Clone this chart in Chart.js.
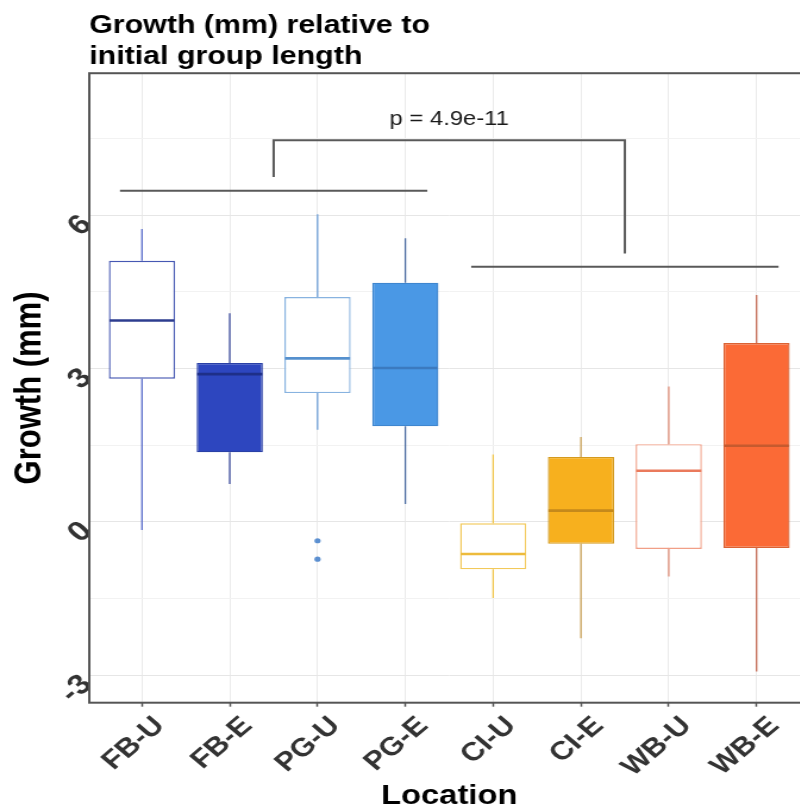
<!DOCTYPE html>
<html><head><meta charset="utf-8">
<script src="https://cdn.jsdelivr.net/npm/chart.js@4"></script>
<style>
html,body{margin:0;padding:0;background:#fff;overflow:hidden;}
#wrap{width:800px;height:810px;overflow:hidden;position:relative;background:#fff;}
#c{display:block;}
</style></head><body>
<div id="wrap"><canvas id="c" width="684" height="810" style="width:814px;height:810px"></canvas></div>
<script>
// ---- data ----
const categories  = ['FB-U','FB-E','PG-U','PG-E','CI-U','CI-E','WB-U','WB-E'];
const whiskerLow  = [-0.16, 0.74, 1.80, 0.35, -1.49, -2.28, -1.07, -2.93];
const q1          = [ 2.80, 1.36, 2.52, 1.87, -0.93, -0.43, -0.53, -0.51];
const median      = [ 3.94, 2.89, 3.20, 3.01, -0.63,  0.22,  1.00,  1.49];
const q3          = [ 5.11, 3.11, 4.40, 4.68, -0.03,  1.27,  1.52,  3.50];
const whiskerHigh = [ 5.73, 4.08, 6.02, 5.55,  1.32,  1.66,  2.65,  4.44];
const outlierCategory = ['PG-U','PG-U'];
const outlierValues   = [-0.37, -0.73];
const yTickValues = [-3, -1.5, 0, 1.5, 3, 4.5, 6, 7.5];
const yTickLabels = ['-3', '', '0', '', '3', '', '6', ''];
const groupA = ['FB-U','FB-E','PG-U','PG-E'];
const groupB = ['CI-U','CI-E','WB-U','WB-E'];
const groupALineY = 6.48;
const groupBLineY = 4.99;
const bracketTopY = 7.47;
const pLabel = 'p = 4.9e-11';
const pLabelY = 7.77;

// ---- styles ----
const fills   = ['#FFFFFF','#2D46BF','#FFFFFF','#4A98E5','#FFFFFF','#F7B01E','#FFFFFF','#FB6A36'];
const strokes = ['#4658B3','#2A40A6','#88B3E0','#3E86CF','#F2C95A','#D49A1E','#F19F87','#DB6233'];
const medianColors  = ['#2D3D8F','#1E2F88','#5590CE','#3B7ABF','#EDBB3C','#C4891B','#EA7A5C','#C65A2E'];
const whiskerColors = ['#5C6ECB','#3A4A9C','#6F9FD6','#4E6EA2','#F0C64F','#C9A155','#DF8E78','#C46C55'];
const FONT = '"Liberation Sans", Arial, Helvetica, sans-serif';

const X = c => categories.indexOf(c) + 1;
const boxData = categories.map((c, i) => ({x: i + 1, y: [q1[i], q3[i]]}));
const outlierData = outlierValues.map((v, i) => ({x: X(outlierCategory[i]), y: v}));
const aMid = (X(groupA[0]) + X(groupA[groupA.length - 1])) / 2;
const bMid = (X(groupB[0]) + X(groupB[groupB.length - 1])) / 2;
const lineA = [{x: X(groupA[0]) - 0.25, y: groupALineY}, {x: X(groupA[groupA.length - 1]) + 0.25, y: groupALineY}];
const lineB = [{x: X(groupB[0]) - 0.25, y: groupBLineY}, {x: X(groupB[groupB.length - 1]) + 0.25, y: groupBLineY}];
const bracket = [{x: aMid, y: groupALineY + 0.27}, {x: aMid, y: bracketTopY}, {x: bMid, y: bracketTopY}, {x: bMid, y: groupBLineY + 0.26}];

const lineDs = pts => ({type: 'line', data: pts, borderColor: '#595959', borderWidth: 2,
  pointRadius: 0, fill: false, tension: 0, borderCapStyle: 'butt'});

const boxParts = {
  id: 'boxParts',
  beforeDatasetsDraw(chart) {
    const {ctx, scales: {x, y}} = chart;
    ctx.save();
    ctx.lineWidth = 1.3;
    categories.forEach((c, i) => {
      const px = x.getPixelForValue(i + 1);
      ctx.strokeStyle = whiskerColors[i];
      ctx.beginPath();
      ctx.moveTo(px, y.getPixelForValue(q3[i]));
      ctx.lineTo(px, y.getPixelForValue(whiskerHigh[i]));
      ctx.moveTo(px, y.getPixelForValue(q1[i]));
      ctx.lineTo(px, y.getPixelForValue(whiskerLow[i]));
      ctx.stroke();
    });
    ctx.restore();
  },
  afterDatasetsDraw(chart) {
    const {ctx, chartArea: a, scales: {x, y}} = chart;
    const meta = chart.getDatasetMeta(0);
    ctx.save();
    ctx.lineWidth = 2.6;
    categories.forEach((c, i) => {
      const bar = meta.data[i];
      const hw = bar.width / 2 - 0.5;
      const py = y.getPixelForValue(median[i]);
      ctx.strokeStyle = medianColors[i];
      ctx.beginPath();
      ctx.moveTo(bar.x - hw, py);
      ctx.lineTo(bar.x + hw, py);
      ctx.stroke();
    });
    // p-value label
    ctx.fillStyle = '#1a1a1a';
    ctx.font = '20px ' + FONT;
    ctx.textAlign = 'center';
    ctx.textBaseline = 'alphabetic';
    ctx.fillText(pLabel, x.getPixelForValue((aMid + bMid) / 2), y.getPixelForValue(pLabelY));
    // panel border
    ctx.strokeStyle = '#555555';
    ctx.lineWidth = 2;
    ctx.strokeRect(a.left, a.top, a.right - a.left, a.bottom - a.top);
    ctx.restore();
  }
};

new Chart(document.getElementById('c'), {
  type: 'bar',
  data: {
    datasets: [
      {type: 'bar', data: boxData, backgroundColor: fills, borderColor: strokes, borderWidth: 1.4,
       borderSkipped: false, barPercentage: 0.754, categoryPercentage: 1.0, order: 2},
      {type: 'scatter', data: outlierData, backgroundColor: '#5B8FD0', borderColor: '#5B8FD0',
       pointRadius: 2.6, borderWidth: 0, order: 1},
      lineDs(lineA), lineDs(lineB), lineDs(bracket)
    ]
  },
  options: {
    responsive: false, animation: false, devicePixelRatio: 1,
    layout: {padding: 0},
    plugins: {
      legend: {display: false}, tooltip: {enabled: false},
      title: {display: true, text: ['Growth (mm) relative to', 'initial group length'],
        align: 'start', fullSize: false, color: '#000',
        font: {family: FONT, size: 25.5, weight: 'bold', lineHeight: 1.22},
        padding: {top: 10, bottom: 1}}
    },
    scales: {
      x: {type: 'linear', min: 0.4, max: 8.6, offset: false,
        afterBuildTicks: s => { s.ticks = categories.map((c, i) => ({value: i + 1})); },
        afterFit: s => { s.height = 107.3; },
        ticks: {autoSkip: false, minRotation: 45, maxRotation: 45, padding: 4, labelOffset: 15,
          callback: (v, i) => categories[i], color: '#333',
          font: {family: FONT, size: 26, weight: 'bold'}},
        grid: {offset: false, color: '#EBEBEB', lineWidth: 1, drawTicks: true, tickLength: 4, tickColor: '#555', tickWidth: 1.5},
        border: {display: false},
        title: {display: true, text: 'Location', color: '#000',
          font: {family: FONT, size: 27.5, weight: 'bold', lineHeight: 1.2}, padding: {top: 0, bottom: -3}}
      },
      y: {type: 'linear', min: -3.54, max: 8.78,
        afterBuildTicks: s => { s.ticks = yTickValues.map(v => ({value: v})); },
        afterFit: s => { s.width = 75; },
        ticks: {minRotation: 45, maxRotation: 45, padding: 2, labelOffset: 5, color: '#333',
          callback: (v, i) => yTickLabels[i],
          font: {family: FONT, size: 28, weight: 'bold'}},
        grid: {color: c => (yTickLabels[c.index] ? '#E6E6E6' : '#F2F2F2'), lineWidth: 1, drawTicks: false},
        border: {display: false},
        title: {display: true, text: 'Growth (mm)', color: '#000',
          font: {family: FONT, size: 31, weight: 'bold', lineHeight: 1.2}, padding: {top: 6.6, bottom: 0}}
      }
    }
  },
  plugins: [boxParts]
});
</script>
</body></html>
